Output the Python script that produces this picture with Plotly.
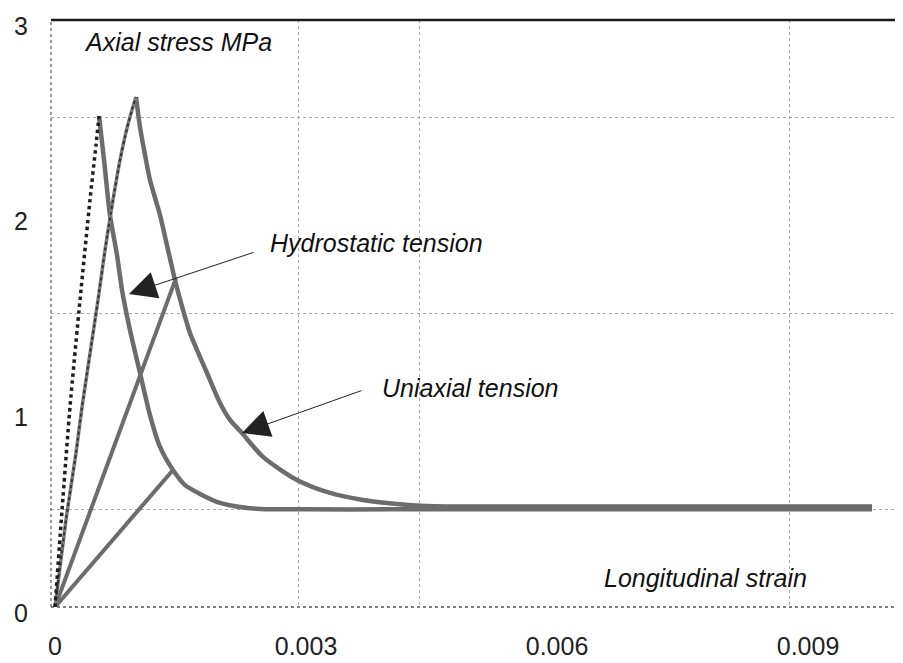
import plotly.graph_objects as go

# ---- data (strain, axial stress MPa) ----
hydro_up_x = [0, 0.000084, 0.000179, 0.000299, 0.000418, 0.000490, 0.000526]
hydro_up_y = [0, 0.496, 1.022, 1.569, 2.080, 2.361, 2.509]

hydro_down_x = [0.000526, 0.000586, 0.000657, 0.000741, 0.000801, 0.000896, 0.001016,
                0.001135, 0.001255, 0.001410, 0.001554, 0.001733, 0.001972, 0.002211,
                0.002450, 0.003000, 0.004000, 0.005500, 0.007000, 0.008500, 0.009765]
hydro_down_y = [2.509, 2.284, 2.003, 1.799, 1.620, 1.416, 1.196,
                0.981, 0.818, 0.700, 0.623, 0.578, 0.532, 0.511,
                0.501, 0.499, 0.499, 0.499, 0.499, 0.499, 0.499]

uni_up_x = [0, 0.000131, 0.000251, 0.000323, 0.000514, 0.000598, 0.000693,
            0.000777, 0.000861, 0.000920, 0.000968]
uni_up_y = [0, 0.445, 0.787, 1.022, 1.569, 1.825, 2.080,
            2.284, 2.448, 2.540, 2.606]

uni_down_x = [0.000968, 0.001016, 0.001076, 0.001135, 0.001255, 0.001351, 0.001434,
              0.001530, 0.001613, 0.001733, 0.001817, 0.001972, 0.002092, 0.002235,
              0.002486, 0.002892, 0.003287, 0.003681, 0.004088, 0.004362, 0.004800,
              0.005500, 0.007000, 0.008500, 0.009765]
uni_down_y = [2.606, 2.453, 2.310, 2.182, 2.003, 1.825, 1.671,
              1.518, 1.400, 1.278, 1.196, 1.043, 0.956, 0.889,
              0.767, 0.649, 0.583, 0.547, 0.526, 0.518, 0.514,
              0.514, 0.514, 0.514, 0.514]

line_c_x = [0, 0.001446]
line_c_y = [0, 1.681]
line_d_x = [0, 0.001410]
line_d_y = [0, 0.700]

x_tickvals = [0, 0.003, 0.006, 0.009]
x_ticktext = ["0", "0.003", "0.006", "0.009"]
y_tickvals = [0, 1, 2, 3]
y_ticktext = ["0", "1", "2", "3"]
x_grid = [0.002916, 0.004362, 0.008773]
y_grid = [0.5, 1.5, 2.5]

FONT = "Liberation Sans, Arial, sans-serif"
GRAY = "#6c6c6c"

fig = go.Figure()
fig.add_trace(go.Scatter(x=line_d_x, y=line_d_y, mode="lines",
                         line=dict(color=GRAY, width=4), showlegend=False))
fig.add_trace(go.Scatter(x=line_c_x, y=line_c_y, mode="lines",
                         line=dict(color=GRAY, width=4), showlegend=False))
fig.add_trace(go.Scatter(x=hydro_down_x, y=hydro_down_y, mode="lines",
                         line=dict(color=GRAY, width=4.5, shape="spline", smoothing=0.7),
                         showlegend=False))
fig.add_trace(go.Scatter(x=uni_down_x, y=uni_down_y, mode="lines",
                         line=dict(color=GRAY, width=4.5, shape="spline", smoothing=0.7),
                         showlegend=False))
fig.add_trace(go.Scatter(x=uni_up_x, y=uni_up_y, mode="lines",
                         line=dict(color="#7a7a7a", width=3.5, shape="spline", smoothing=0.6),
                         showlegend=False))
fig.add_trace(go.Scatter(x=uni_up_x, y=uni_up_y, mode="lines",
                         line=dict(color="#333333", width=2, dash="dot", shape="spline",
                                   smoothing=0.6),
                         showlegend=False))
fig.add_trace(go.Scatter(x=hydro_up_x, y=hydro_up_y, mode="lines",
                         line=dict(color="#1e1e1e", width=3.5, dash="dot", shape="spline",
                                   smoothing=0.6),
                         showlegend=False))

ital = dict(family=FONT, size=25, color="#111111")
fig.add_annotation(x=0.000323, y=2.887, text="<i>Axial stress MPa</i>", showarrow=False,
                   xanchor="left", yanchor="middle", font=ital)
fig.add_annotation(x=0.006538, y=0.148, text="<i>Longitudinal strain</i>", showarrow=False,
                   xanchor="left", yanchor="middle", font=ital)
fig.add_annotation(x=0.002546, y=1.86, text="<i>Hydrostatic tension</i>", showarrow=False,
                   xanchor="left", yanchor="middle", font=ital)
fig.add_annotation(x=0.003884, y=1.119, text="<i>Uniaxial tension</i>", showarrow=False,
                   xanchor="left", yanchor="middle", font=ital)
# arrows
fig.add_annotation(x=0.000884, y=1.60, ax=126, ay=-42, text="", showarrow=True,
                   arrowhead=2, arrowsize=5.5, arrowwidth=1, arrowcolor="#222222")
fig.add_annotation(x=0.002235, y=0.889, ax=121, ay=-43, text="", showarrow=True,
                   arrowhead=2, arrowsize=5.5, arrowwidth=1, arrowcolor="#222222")

# frame lines
fig.add_shape(type="line", xref="paper", yref="paper", x0=0, x1=1, y0=1, y1=1,
              line=dict(color="#1a1a1a", width=2.5))
fig.add_shape(type="line", xref="paper", yref="paper", x0=0, x1=0, y0=0, y1=1,
              line=dict(color="#777777", width=1.5, dash="dot"))
fig.add_shape(type="line", xref="paper", yref="paper", x0=0, x1=1, y0=0, y1=0,
              line=dict(color="#555555", width=1.5, dash="dot"))

fig.update_layout(
    width=895, height=655,
    margin=dict(l=43, r=0, t=12, b=56),
    paper_bgcolor="white", plot_bgcolor="white",
    font=dict(family=FONT, size=25, color="#222222"),
    xaxis=dict(range=[-0.0000478, 0.010135], tickvals=x_tickvals, ticktext=x_ticktext,
               showgrid=False, zeroline=False, showline=False, ticks="",
               ticklabelstandoff=22,
               minor=dict(tickvals=x_grid, showgrid=True, gridcolor="#aaaaaa",
                          griddash="dot", gridwidth=1, ticks="")),
    yaxis=dict(range=[0, 3], tickvals=y_tickvals, ticktext=y_ticktext,
               showgrid=False, zeroline=False, showline=False, ticks="",
               ticklabelstandoff=22, ticklabelshift=6,
               minor=dict(tickvals=y_grid, showgrid=True, gridcolor="#aaaaaa",
                          griddash="dot", gridwidth=1, ticks="")),
)

fig.write_html("out.html")
